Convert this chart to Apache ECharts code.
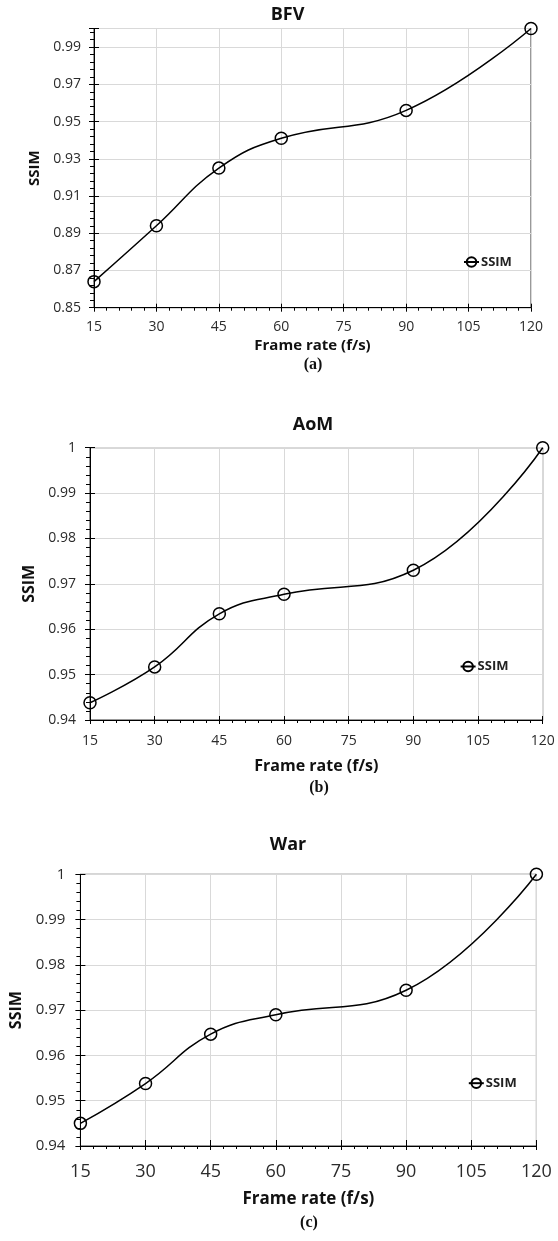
<!DOCTYPE html>
<html><head><meta charset="utf-8">
<script src="https://cdn.jsdelivr.net/npm/echarts@6/dist/echarts.min.js"></script>
<style>html,body{margin:0;padding:0;background:#fff}#c{width:558px;height:1241px}</style>
</head><body><div id="c"></div>
<script>
// ---- data ----
const frameRates = [15, 30, 45, 60, 90, 120];
const ssimBFV = [0.864, 0.894, 0.925, 0.941, 0.956, 1.0];
const ssimAoM = [0.9438, 0.9517, 0.9634, 0.9677, 0.973, 1.0];
const ssimWar = [0.945, 0.9538, 0.9647, 0.969, 0.9744, 1.0];
const panelTitles = ['BFV', 'AoM', 'War'];
const panelTags = ['(a)', '(b)', '(c)'];
const xAxisName = 'Frame rate (f/s)';
const yAxisName = 'SSIM';
const seriesName = 'SSIM';
const xMin = 15, xMax = 120, xStep = 15;
const yRanges = [[0.85, 1.0, 0.02], [0.94, 1.0, 0.01], [0.94, 1.0, 0.01]];

// ---- layout / style ----
const FONT = '"Open Sans", "Noto Sans", sans-serif';
const panels = [
  { vals: ssimBFV, grid: {left: 94, top: 28.5, width: 437, height: 279.2}, showMax: false,
    yLbl: 14, yMargin: 13, xLbl: 14, xMargin: 12, xName: 15, xGap: 31, yName: 15, yGap: 47,
    title: [287.5, 15], tag: [313, 365], legend: [458, 250.5] },
  { vals: ssimAoM, grid: {left: 90, top: 447.7, width: 452.7, height: 272.3}, showMax: true,
    yLbl: 14, yMargin: 14, xLbl: 14, xMargin: 14, xName: 16, xGap: 38, yName: 16, yGap: 46,
    title: [313, 425], tag: [319, 788], legend: [454.6, 655] },
  { vals: ssimWar, grid: {left: 80.4, top: 874.3, width: 456, height: 271.7}, showMax: true,
    yLbl: 15, yMargin: 15, xLbl: 18, xMargin: 17, xName: 17, xGap: 45, yName: 16, yGap: 56,
    title: [288, 845], tag: [309, 1223], legend: [462.8, 1071.7] }
];

const grid = [], xAxis = [], yAxis = [], series = [], legend = [], graphic = [];
panels.forEach((p, i) => {
  const [yMin, yMax, yStep] = yRanges[i];
  grid.push(Object.assign({show: true, borderColor: '#333', borderWidth: 1, outerBoundsMode: 'none'}, p.grid));
  xAxis.push({
    type: 'value', gridIndex: i, min: xMin, max: xMax, interval: xStep,
    name: xAxisName, nameLocation: 'middle', nameGap: p.xGap,
    nameTextStyle: {fontFamily: FONT, fontSize: p.xName, fontWeight: 'bold', color: '#111'},
    axisLine: {show: true, lineStyle: {color: '#000', width: 1}},
    axisTick: {show: true, inside: false, length: 4, lineStyle: {color: '#000'}},
    minorTick: {show: true, splitNumber: 5, length: 3, lineStyle: {color: '#000'}},
    splitLine: {show: true, lineStyle: {color: '#d9d9d9', width: 1}},
    axisLabel: {fontFamily: FONT, fontSize: p.xLbl, color: '#2b2b2b', margin: p.xMargin}
  });
  xAxis.push({
    type: 'value', gridIndex: i, min: xMin, max: xMax, interval: xStep, position: 'bottom',
    axisLine: {show: false}, axisLabel: {show: false}, splitLine: {show: false},
    axisTick: {show: true, inside: true, length: i === 2 ? 6 : 4, lineStyle: {color: '#000'}}
  });
  yAxis.push({
    type: 'value', gridIndex: i, min: yMin, max: yMax, interval: yStep,
    name: yAxisName, nameLocation: 'middle', nameGap: p.yGap,
    nameTextStyle: {fontFamily: FONT, fontSize: p.yName, fontWeight: 'bold', color: '#111'},
    axisLine: {show: true, lineStyle: {color: '#000', width: 1}},
    axisTick: {show: true, inside: false, length: 5, lineStyle: {color: '#000'}},
    minorTick: {show: true, splitNumber: 5, length: 4, lineStyle: {color: '#000'}},
    splitLine: {show: true, lineStyle: {color: '#d9d9d9', width: 1}},
    axisLabel: {fontFamily: FONT, fontSize: p.yLbl, color: '#2b2b2b', margin: p.yMargin, showMaxLabel: p.showMax}
  });
  yAxis.push({
    type: 'value', gridIndex: i, min: yMin, max: yMax, interval: yStep, position: 'left',
    axisLine: {show: false}, axisLabel: {show: false}, splitLine: {show: false},
    axisTick: {show: true, inside: true, length: 5, lineStyle: {color: '#000'}}
  });
  series.push({
    name: seriesName, type: 'line', xAxisIndex: 2 * i, yAxisIndex: 2 * i,
    data: frameRates.map((x, k) => [x, p.vals[k]]),
    smooth: 0.45, symbol: 'circle', symbolSize: 12, clip: false,
    lineStyle: {color: '#000', width: 1.5},
    itemStyle: {color: 'rgba(255,255,255,0)', borderColor: '#000', borderWidth: 1.5},
    z: 5
  });
  legend.push({
    left: p.legend[0], top: p.legend[1], orient: 'horizontal',
    data: [seriesName], itemWidth: 15, itemHeight: 12, itemGap: 4,
    textStyle: {fontFamily: FONT, fontSize: 13, fontWeight: 'bold', color: '#222', padding: [0, 0, 0, -3]},
    selectedMode: false
  });
  graphic.push({
    type: 'text', x: p.title[0], y: p.title[1],
    style: {text: panelTitles[i], fontFamily: FONT, fontSize: 18, fontWeight: 'bold', fill: '#111',
            align: 'center', verticalAlign: 'middle'}
  });
  graphic.push({
    type: 'text', x: p.tag[0], y: p.tag[1],
    style: {text: panelTags[i], fontFamily: '"Liberation Serif", "Times New Roman", serif', fontSize: 16,
            fontWeight: 'bold', fill: '#111', align: 'center', verticalAlign: 'middle'}
  });
});

const chart = echarts.init(document.getElementById('c'), null, {renderer: 'canvas'});
chart.setOption({
  animation: false,
  backgroundColor: '#fff',
  grid, xAxis, yAxis, series, legend, graphic
});
</script>
</body></html>
